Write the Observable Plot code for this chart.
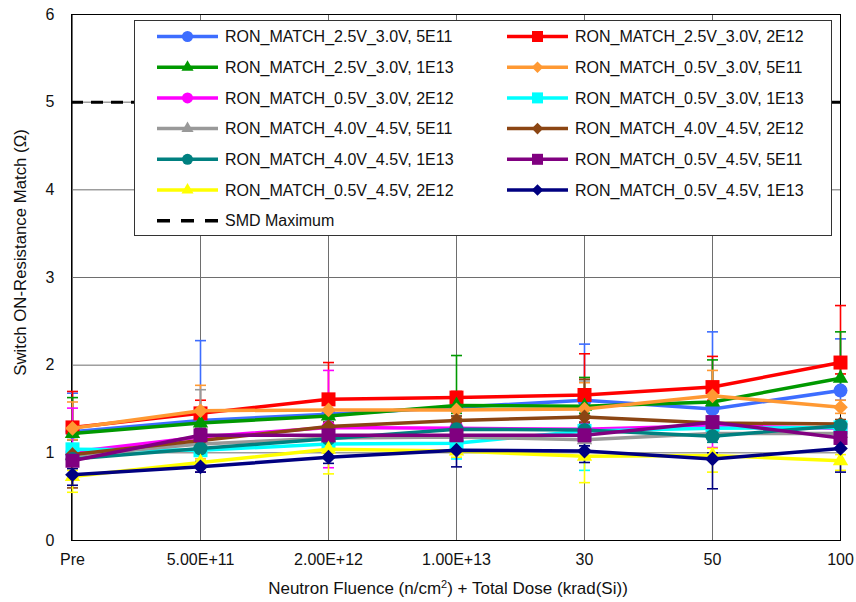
<!DOCTYPE html>
<html>
<head>
<meta charset="utf-8">
<script src="https://cdn.jsdelivr.net/npm/d3@7"></script>
<script src="https://cdn.jsdelivr.net/npm/@observablehq/plot@0.6"></script>
<style>
  html, body { margin: 0; padding: 0; background: #fff; }
  #wrap { position: relative; width: 856px; height: 602px; font-family: "Liberation Sans", Arial, sans-serif; color: #111; }
  #xlabel { position: absolute; left: 0; width: 896px; top: 579px; text-align: center; font-size: 17px; }
  #xlabel sup { font-size: 11px; vertical-align: 6px; line-height: 0; }
  #legend { position: absolute; left: 134px; top: 20px; }
</style>
</head>
<body>
<div id="wrap">
  <div id="chart"></div>
  <div id="legend"></div>
  <div id="xlabel">Neutron Fluence (n/cm<sup>2</sup>) + Total Dose (krad(Si))</div>
</div>
<script>
// ---------- data ----------
const categories = ["Pre", "5.00E+11", "2.00E+12", "1.00E+13", "30", "50", "100"];
const yTicks = [0, 1, 2, 3, 4, 5, 6];
const smdMaximum = 5;

const seriesNames = [
  "RON_MATCH_2.5V_3.0V, 5E11", "RON_MATCH_2.5V_3.0V, 2E12",
  "RON_MATCH_2.5V_3.0V, 1E13", "RON_MATCH_0.5V_3.0V, 5E11",
  "RON_MATCH_0.5V_3.0V, 2E12", "RON_MATCH_0.5V_3.0V, 1E13",
  "RON_MATCH_4.0V_4.5V, 5E11", "RON_MATCH_4.0V_4.5V, 2E12",
  "RON_MATCH_4.0V_4.5V, 1E13", "RON_MATCH_0.5V_4.5V, 5E11",
  "RON_MATCH_0.5V_4.5V, 2E12", "RON_MATCH_0.5V_4.5V, 1E13"
];
const seriesColors = ["#3d6dff", "#ff0000", "#009900", "#ff9933", "#ff00ff", "#00ffff",
                      "#999999", "#8b4513", "#008080", "#800080", "#ffff00", "#000080"];
const seriesSymbols = ["circle", "square", "triangle", "diamond", "circle", "square",
                       "triangle", "diamond", "circle", "square", "triangle", "diamond"];

// mean values per category
const blue    = [1.24, 1.37, 1.44, 1.52, 1.60, 1.50, 1.71];
const red     = [1.29, 1.45, 1.61, 1.63, 1.66, 1.75, 2.03];
const green   = [1.22, 1.34, 1.42, 1.54, 1.53, 1.58, 1.85];
const orange  = [1.28, 1.48, 1.49, 1.49, 1.50, 1.65, 1.52];
const magenta = [1.01, 1.18, 1.29, 1.28, 1.27, 1.31, 1.28];
const cyan    = [1.04, 1.03, 1.10, 1.11, 1.25, 1.28, 1.29];
const gray    = [0.97, 1.10, 1.17, 1.18, 1.15, 1.22, 1.22];
const brown   = [0.98, 1.14, 1.30, 1.37, 1.41, 1.34, 1.33];
const teal    = [0.93, 1.05, 1.16, 1.27, 1.26, 1.19, 1.31];
const purple  = [0.91, 1.20, 1.20, 1.20, 1.20, 1.35, 1.17];
const yellow  = [0.73, 0.89, 1.04, 1.02, 0.96, 0.97, 0.91];
const navy    = [0.75, 0.84, 0.95, 1.03, 1.02, 0.93, 1.05];

// error bar upper / lower ends
const blueHi    = [1.68, 2.28, 1.60, 1.62, 2.24, 2.38, 2.30];
const blueLo    = [1.15, 1.20, 1.35, 1.42, 1.45, 1.35, 1.60];
const redHi     = [1.70, 1.60, 2.03, 1.70, 2.13, 2.10, 2.68];
const redLo     = [1.20, 1.35, 1.50, 1.55, 1.55, 1.60, 1.90];
const greenHi   = [1.63, 1.45, 1.50, 2.11, 1.86, 2.06, 2.38];
const greenLo   = [1.15, 1.25, 1.35, 1.45, 1.45, 1.50, 1.75];
const orangeHi  = [1.58, 1.77, 1.58, 1.58, 1.80, 1.94, 1.60];
const orangeLo  = [1.15, 0.93, 1.40, 1.40, 1.40, 1.55, 1.45];
const magentaHi = [1.51, 1.30, 1.94, 1.35, 1.35, 1.40, 1.35];
const magentaLo = [0.95, 1.10, 0.83, 1.20, 1.20, 1.06, 1.20];
const cyanHi    = [1.10, 1.10, 1.16, 1.18, 1.30, 1.33, 1.33];
const cyanLo    = [0.98, 0.97, 1.03, 0.93, 0.80, 1.22, 1.22];
const grayHi    = [1.05, 1.72, 1.25, 1.25, 1.82, 1.28, 1.28];
const grayLo    = [0.90, 1.00, 1.10, 1.12, 1.08, 1.15, 1.15];
const brownHi   = [1.05, 1.20, 1.35, 1.42, 1.84, 1.40, 1.38];
const brownLo   = [0.60, 1.05, 1.22, 1.30, 1.35, 1.27, 1.27];
const tealHi    = [1.00, 1.10, 1.20, 1.33, 1.33, 1.25, 1.36];
const tealLo    = [0.86, 0.97, 1.06, 1.20, 1.20, 1.12, 1.24];
const purpleHi  = [0.98, 1.28, 1.25, 1.25, 1.25, 1.42, 1.22];
const purpleLo  = [0.85, 0.78, 1.12, 1.12, 1.12, 1.28, 1.10];
const yellowHi  = [0.80, 0.96, 1.10, 1.08, 1.03, 1.05, 0.98];
const yellowLo  = [0.55, 0.92, 0.76, 0.95, 0.66, 0.78, 0.80];
const navyHi    = [0.82, 0.90, 1.00, 1.10, 1.08, 1.00, 1.12];
const navyLo    = [0.63, 0.78, 0.88, 0.84, 0.89, 0.59, 0.78];

const seriesValues = [blue, red, green, orange, magenta, cyan, gray, brown, teal, purple, yellow, navy];
const seriesHi = [blueHi, redHi, greenHi, orangeHi, magentaHi, cyanHi, grayHi, brownHi, tealHi, purpleHi, yellowHi, navyHi];
const seriesLo = [blueLo, redLo, greenLo, orangeLo, magentaLo, cyanLo, grayLo, brownLo, tealLo, purpleLo, yellowLo, navyLo];

// ---------- symbols ----------
const symSquare = { draw(ctx, size) { const r = Math.sqrt(size / Math.PI); ctx.rect(-r, -r, 2 * r, 2 * r); } };
const symDiamond = { draw(ctx, size) { const r = Math.sqrt(size / Math.PI) * 1.05;
  ctx.moveTo(0, -r); ctx.lineTo(r, 0); ctx.lineTo(0, r); ctx.lineTo(-r, 0); ctx.closePath(); } };
const symTriangle = { draw(ctx, size) { const r = Math.sqrt(size / Math.PI); const s = 2.2 * r, h = s * 0.866;
  ctx.moveTo(0, -h * 2 / 3); ctx.lineTo(s / 2, h / 3); ctx.lineTo(-s / 2, h / 3); ctx.closePath(); } };
const symCircle = { draw(ctx, size) { const r = Math.sqrt(size / Math.PI); ctx.moveTo(r, 0); ctx.arc(0, 0, r, 0, 2 * Math.PI); } };
const symCap = { draw(ctx, size) { const r = Math.sqrt(size / Math.PI); ctx.moveTo(-r, 0); ctx.lineTo(r, 0); } };
const symbolMap = { circle: symCircle, square: symSquare, triangle: symTriangle, diamond: symDiamond };

// ---------- table ----------
const series = seriesNames.map((name, i) => ({
  name, color: seriesColors[i], symbol: symbolMap[seriesSymbols[i]],
  rows: categories.map((c, j) => ({ cat: c, v: seriesValues[i][j], hi: seriesHi[i][j], lo: seriesLo[i][j] }))
}));

const marks = [
  Plot.gridY(yTicks, { stroke: "#6e6e6e", strokeOpacity: 1, strokeWidth: 1 }),
  Plot.gridX(categories, { stroke: "#6e6e6e", strokeOpacity: 1, strokeWidth: 1 }),
  Plot.ruleY([smdMaximum], { stroke: "#000", strokeWidth: 3, strokeDasharray: "12,8" }),
  Plot.frame({ stroke: "#000", strokeWidth: 1 })
];
for (const s of series) {
  marks.push(Plot.ruleX(s.rows, { x: "cat", y1: "lo", y2: "hi", stroke: s.color, strokeWidth: 1.6 }));
  marks.push(Plot.dot(s.rows, { x: "cat", y: "hi", symbol: symCap, r: 5.5, stroke: s.color, strokeWidth: 1.6, fill: "none" }));
  marks.push(Plot.dot(s.rows, { x: "cat", y: "lo", symbol: symCap, r: 5.5, stroke: s.color, strokeWidth: 1.6, fill: "none" }));
}
for (const s of series) {
  marks.push(Plot.line(s.rows, { x: "cat", y: "v", stroke: s.color, strokeWidth: 3.5 }));
  marks.push(Plot.dot(s.rows, { x: "cat", y: "v", symbol: s.symbol, r: 7, fill: s.color, stroke: "none" }));
}
marks.push(Plot.axisY(yTicks, { tickSize: 0, tickPadding: 17, fontSize: 16, label: null, tickFormat: d => String(d) }));
marks.push(Plot.axisX(categories, { tickSize: 0, tickPadding: 13, fontSize: 16, label: null }));
marks.push(Plot.text(["Switch ON-Resistance Match (Ω)"], { frameAnchor: "left", textAnchor: "middle", dx: -51, dy: -25, rotate: -90, fontSize: 16.8, fill: "#111" }));

const chart = Plot.plot({
  width: 856, height: 602,
  marginLeft: 71, marginRight: 16, marginTop: 14, marginBottom: 62,
  style: { fontFamily: "Liberation Sans, Arial, sans-serif", fontSize: "16px", color: "#111", background: "white" },
  x: { type: "point", domain: categories, padding: 0 },
  y: { domain: [0, 6] },
  marks
});
document.getElementById("chart").appendChild(chart);

// ---------- legend ----------
const LW = 698, LH = 216;
const lsvg = d3.select("#legend").append("svg").attr("width", LW).attr("height", LH)
  .style("font-family", "Liberation Sans, Arial, sans-serif").style("font-size", "16px");
lsvg.append("rect").attr("x", 0.5).attr("y", 0.5).attr("width", LW - 1).attr("height", LH - 1)
  .attr("fill", "white").attr("stroke", "#333").attr("stroke-width", 1);
const legendItems = series.map(s => ({ name: s.name, color: s.color, symbol: s.symbol, dashed: false }))
  .concat([{ name: "SMD Maximum", color: "#000", symbol: null, dashed: true }]);
legendItems.forEach((it, i) => {
  const col = it.dashed ? 0 : i % 2, row = it.dashed ? 6 : Math.floor(i / 2);
  const x0 = col === 0 ? 23 : 373, y0 = 16.5 + row * 30.7;
  const g = lsvg.append("g").attr("transform", `translate(${x0},${y0})`);
  g.append("line").attr("x1", 0).attr("x2", 61).attr("y1", 0).attr("y2", 0)
    .attr("stroke", it.color).attr("stroke-width", 3.5)
    .attr("stroke-dasharray", it.dashed ? "13,11" : null);
  if (it.symbol) {
    g.append("path").attr("transform", "translate(30.5,0)")
      .attr("d", d3.symbol(it.symbol, Math.PI * 5.5 * 5.5)()).attr("fill", it.color);
  }
  g.append("text").attr("x", 68).attr("y", 0).attr("dy", "0.36em").attr("fill", "#111").text(it.name);
});
</script>
</body>
</html>
